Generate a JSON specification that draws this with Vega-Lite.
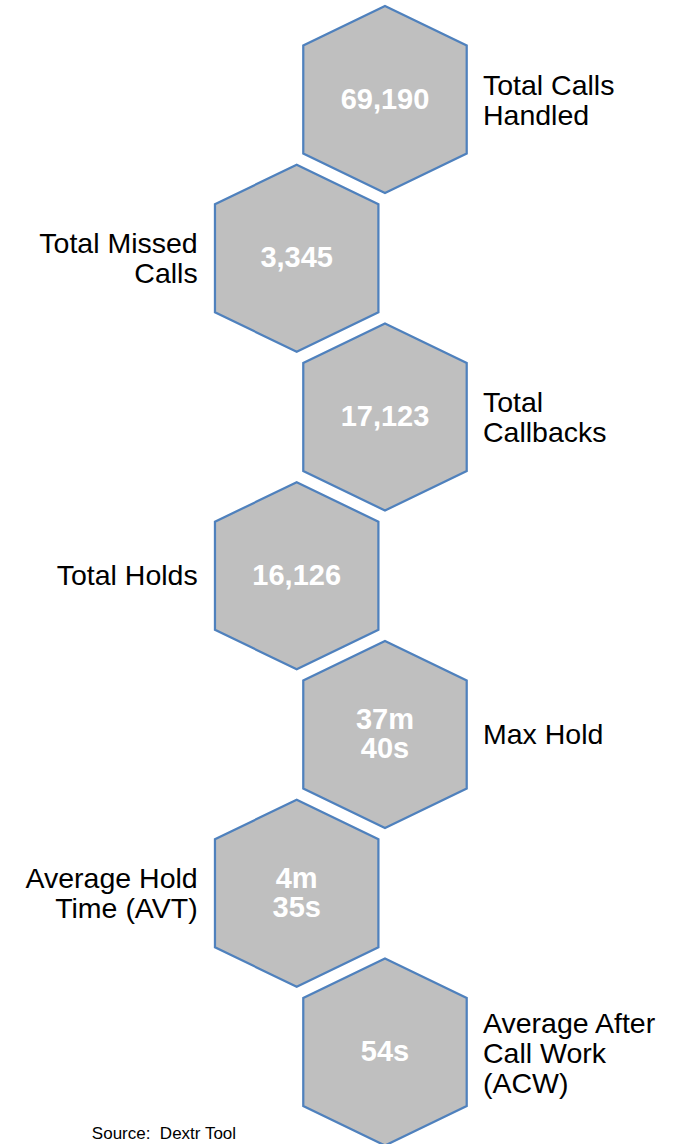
{
  "$schema": "https://vega.github.io/schema/vega-lite/v6.json",
  "width": 674,
  "height": 1144,
  "autosize": {"type": "none"},
  "padding": 0,
  "background": "#ffffff",
  "config": {"view": {"stroke": null}, "font": "Liberation Sans", "text": {"font": "Liberation Sans"}},
  "datasets": {
    "kpis": [
      {"metric": "Total Calls Handled", "label": "Total Calls\nHandled", "value": "69,190", "col": 1, "row": 1},
      {"metric": "Total Missed Calls", "label": "Total Missed\nCalls", "value": "3,345", "col": 0, "row": 2},
      {"metric": "Total Callbacks", "label": "Total\nCallbacks", "value": "17,123", "col": 1, "row": 3},
      {"metric": "Total Holds", "label": "Total Holds", "value": "16,126", "col": 0, "row": 4},
      {"metric": "Max Hold", "label": "Max Hold", "value": "37m\n40s", "col": 1, "row": 5},
      {"metric": "Average Hold Time (AVT)", "label": "Average Hold\nTime (AVT)", "value": "4m\n35s", "col": 0, "row": 6},
      {"metric": "Average After Call Work (ACW)", "label": "Average After\nCall Work\n(ACW)", "value": "54s", "col": 1, "row": 7}
    ],
    "notes": [
      {"note": "Source:\u00a0 Dextr Tool", "col": -2.32, "row": 7.55}
    ]
  },
  "data": {"name": "kpis"},
  "encoding": {
    "x": {"field": "col", "type": "quantitative", "axis": null, "scale": {"domain": [-3.36, 4.273], "nice": false, "zero": false}},
    "y": {"field": "row", "type": "quantitative", "axis": null, "scale": {"domain": [0.3732, 7.5795], "nice": false, "zero": false, "reverse": true}}
  },
  "layer": [
    {
      "mark": {
        "type": "point",
        "shape": "M0,-1L0.874,-0.578L0.874,0.578L0,1L-0.874,0.578L-0.874,-0.578Z",
        "size": 34969,
        "filled": true,
        "fill": "#bfbfbf",
        "stroke": "#4f81bd",
        "strokeWidth": 2.25,
        "opacity": 1,
        "fillOpacity": 1,
        "strokeOpacity": 1
      }
    },
    {
      "transform": [{"filter": "length(split(datum.value, '\\n')) == 1"}],
      "mark": {"type": "text", "font": "Liberation Sans", "lineBreak": "\n", "fontSize": 29, "fontWeight": "bold", "fill": "#ffffff", "align": "center", "baseline": "middle", "lineHeight": 29},
      "encoding": {"text": {"field": "value", "type": "nominal"}}
    },
    {
      "transform": [{"filter": "length(split(datum.value, '\\n')) == 2"}],
      "mark": {"type": "text", "font": "Liberation Sans", "lineBreak": "\n", "fontSize": 29, "fontWeight": "bold", "fill": "#ffffff", "align": "center", "baseline": "middle", "lineHeight": 29, "dy": -14.5},
      "encoding": {"text": {"field": "value", "type": "nominal"}}
    },
    {
      "transform": [{"filter": "datum.col == 1 && length(split(datum.label, '\\n')) == 1"}],
      "mark": {"type": "text", "font": "Liberation Sans", "lineBreak": "\n", "fontSize": 28.5, "fill": "#000000", "align": "left", "baseline": "middle", "lineHeight": 30, "dx": 98},
      "encoding": {"text": {"field": "label", "type": "nominal"}}
    },
    {
      "transform": [{"filter": "datum.col == 1 && length(split(datum.label, '\\n')) == 2"}],
      "mark": {"type": "text", "font": "Liberation Sans", "lineBreak": "\n", "fontSize": 28.5, "fill": "#000000", "align": "left", "baseline": "middle", "lineHeight": 30, "dx": 98, "dy": -14},
      "encoding": {"text": {"field": "label", "type": "nominal"}}
    },
    {
      "transform": [{"filter": "datum.col == 1 && length(split(datum.label, '\\n')) == 3"}],
      "mark": {"type": "text", "font": "Liberation Sans", "lineBreak": "\n", "fontSize": 28.5, "fill": "#000000", "align": "left", "baseline": "middle", "lineHeight": 30, "dx": 98, "dy": -28},
      "encoding": {"text": {"field": "label", "type": "nominal"}}
    },
    {
      "transform": [{"filter": "datum.col == 0 && length(split(datum.label, '\\n')) == 1"}],
      "mark": {"type": "text", "font": "Liberation Sans", "lineBreak": "\n", "fontSize": 28.5, "fill": "#000000", "align": "right", "baseline": "middle", "lineHeight": 30, "dx": -99},
      "encoding": {"text": {"field": "label", "type": "nominal"}}
    },
    {
      "transform": [{"filter": "datum.col == 0 && length(split(datum.label, '\\n')) == 2"}],
      "mark": {"type": "text", "font": "Liberation Sans", "lineBreak": "\n", "fontSize": 28.5, "fill": "#000000", "align": "right", "baseline": "middle", "lineHeight": 30, "dx": -99, "dy": -14},
      "encoding": {"text": {"field": "label", "type": "nominal"}}
    },
    {
      "data": {"name": "notes"},
      "mark": {"type": "text", "font": "Liberation Sans", "fontSize": 17, "fill": "#000000", "align": "left", "baseline": "alphabetic"},
      "encoding": {"text": {"field": "note", "type": "nominal"}}
    }
  ]
}
